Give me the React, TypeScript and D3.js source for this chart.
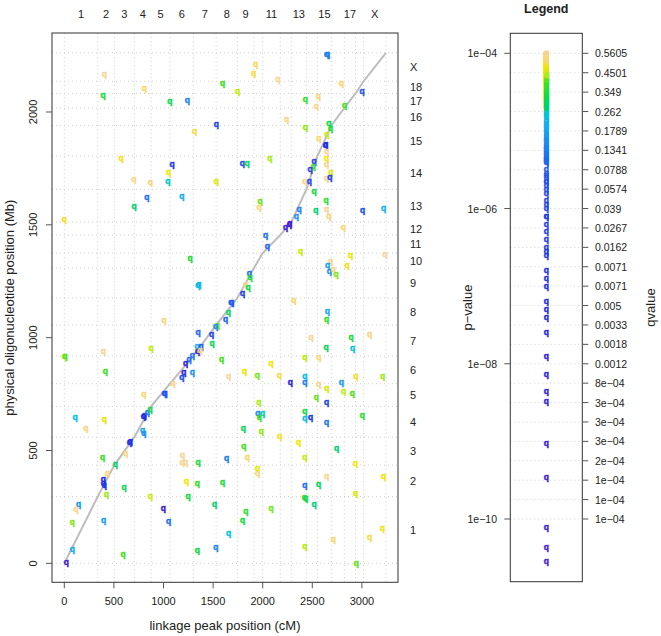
import * as d3 from 'd3';

const chroms = ['1', '2', '3', '4', '5', '6', '7', '8', '9', '10', '11', '12', '13', '14', '15', '16', '17', '18', 'X'];
const topShown = ['1', '2', '3', '4', '5', '6', '7', '8', '9', '11', '13', '15', '17', 'X'];
// cumulative chromosome boundaries
const cmBounds = [0, 337, 505, 706, 875, 1066, 1301, 1530, 1745, 1912, 2000, 2177, 2288, 2440, 2553, 2692, 2823, 2936, 3017, 3243];
const mbBounds = [0, 295.5, 435.5, 559.1, 695.4, 795.9, 919.2, 1055.6, 1175.6, 1308.1, 1374.8, 1454.6, 1512.0, 1657.2, 1805.7, 1940.2, 2017.6, 2082.0, 2136.3, 2262.2];

const markerCM = [
  403, 806, 1597, 1746, 390, 1065, 1240, 1532, 1314, 572, 1086, 1052, 700, 867, 1045, 1532, 831, 1186, 703, 0,
  2645, 2655, 1929, 1909, 2154, 2792, 3001, 2560, 2429, 2540, 2826, 2242, 2668, 2685, 2429, 2648, 2567, 2631, 2636,
  2645, 2645, 2073, 2517, 1794, 1842, 2645, 2510, 2477, 2688, 2426, 2470, 2645, 2678, 2517, 1973, 1963, 2638, 2366,
  2537, 2645, 2668, 3008, 3220, 2339, 2268, 2275, 2232, 2812,
  2030, 2046, 2383, 2887, 3233, 2685, 2655, 2850, 2671, 2712, 2739, 1865, 1872, 1824, 1852, 1798, 1680, 1690, 2315,
  2651, 2645, 1655, 1627, 2487, 2890, 3078, 2638, 2907, 1587, 2426, 2567, 2084, 1657, 1818, 1945, 2167, 2426, 2940,
  3209, 2278, 2426, 2567, 2792, 2648, 2540, 2816, 2903, 1960, 2645, 1950, 2000, 1966, 2426, 2484, 2426, 2645, 3004,
  1804, 1986, 2174, 2363, 1811, 2746, 1637, 1845, 2426, 1949, 1949, 2937, 2645, 3220, 1597, 2426, 2564, 2937, 2420,
  2432, 2517, 2084, 1829, 1798, 3205, 1657, 3078, 2712, 2426, 2943,
  108, 403, 216, 798, 808, 837, 864, 790, 803, 657, 667, 1193, 619, 387, 514, 1189, 1224, 1348, 433, 393, 393, 403,
  602, 1234, 1341, 423, 867, 1247, 1516, 998, 145, 118, 81, 397, 1052, 81, 592, 1341, 1529, 20,
  1267, 1346, 1356, 1005, 1542, 1524, 1348, 1484, 1489, 1338, 1378, 1345, 1368, 874, 393, 0, 8, 1292, 1257, 1224,
  1204, 1186, 1290, 413, 1096, 803, 1005, 1015,
];
const markerMB = [
  2167, 2104, 2127, 2089, 2073, 2047, 2052, 1945, 1913, 1796, 1769, 1732, 1700, 1689, 1692, 1694, 1620, 1624, 1583, 1522,
  2256, 2256, 2209, 2170, 2145, 2126, 2091, 2068, 2055, 2024, 2027, 1968, 1951, 1929, 1933, 1900, 1883, 1852, 1855,
  1824, 1794, 1796, 1782, 1771, 1771, 1767, 1760, 1744, 1734, 1694, 1691, 1706, 1710, 1647, 1602, 1576, 1607, 1567,
  1564, 1567, 1537, 1565, 1571, 1537, 1502, 1505, 1487, 1487,
  1453, 1403, 1383, 1364, 1367, 1336, 1321, 1321, 1294, 1300, 1278, 1283, 1265, 1235, 1221, 1195, 1154, 1156, 1166,
  1114, 1080, 1112, 1080, 999, 1001, 1013, 956, 950, 905, 914, 914, 885, 826, 851, 834, 834, 827, 827,
  830, 802, 800, 793, 802, 775, 735, 762, 751, 711, 711, 663, 664, 648, 673, 648, 643, 626, 654,
  599, 584, 562, 537, 518, 507, 466, 467, 467, 422, 396, 442, 387, 383, 360, 343, 348, 309, 291,
  287, 262, 244, 228, 191, 154, 133, 114, 107, 74, 1,
  648, 638, 599, 651, 653, 669, 680, 589, 574, 537, 539, 476, 485, 469, 436, 448, 447, 447, 399, 373, 352, 343,
  337, 362, 352, 304, 296, 296, 262, 245, 260, 237, 183, 192, 185, 62, 41, 56, 72, 4,
  1349, 1232, 1234, 1077, 1053, 1048, 1021, 1016, 973, 961, 961, 939, 942, 950, 937, 916, 918, 920, 905, 884,
  845, 822, 846, 848, 798, 747, 751, 753,
];
// log10 p-value of each marker
const markerLogP = [
  -4.0, -4.08, -4.4, -4.27, -4.52, -4.61, -5.2, -6.1, -4.1, -4.15, -6.3, -4.19, -4.03, -4.05, -4.76, -4.22, -5.33, -4.93, -4.68, -4.14,
  -5.17, -5.26, -4.09, -4.12, -4.01, -4.07, -5.6, -4.06, -4.45, -4.02, -4.38, -4.04, -4.57, -4.49, -4.31, -4.26, -4.07, -6.8, -7.2,
  -4.0, -4.17, -4.29, -6.0, -5.7, -4.64, -4.03, -4.42, -5.9, -4.23, -4.05, -5.8, -4.02, -6.2, -4.55, -4.34, -4.06, -4.47, -5.22,
  -4.7, -4.01, -4.04, -5.65, -4.9, -5.12, -10.55, -10.37, -9.47, -4.06,
  -5.29, -5.38, -4.25, -4.2, -4.0, -4.03, -5.0, -4.16, -5.08, -4.05, -4.32, -5.35, -4.53, -4.02, -4.59, -6.5, -5.4, -5.55, -4.07,
  -4.96, -4.44, -4.66, -5.41, -4.01, -4.5, -4.04, -4.62, -4.8, -4.37, -4.28, -4.06, -4.18, -4.0, -4.21, -4.33, -4.11, -4.83, -4.13,
  -4.3, -8.14, -5.24, -4.03, -5.04, -4.24, -4.35, -4.27, -4.36, -4.29, -6.1, -5.18, -4.74, -4.41, -4.56, -6.6, -4.86, -5.31, -4.48,
  -4.63, -4.31, -4.15, -4.19, -4.39, -4.69, -5.27, -4.08, -4.26, -4.22, -4.05, -4.17, -4.02, -4.2, -4.51, -5.36, -4.65, -4.23, -4.43,
  -4.58, -4.71, -4.33, -4.46, -4.54, -4.16, -4.78, -4.1, -4.07, -4.28, -4.35,
  -4.81, -4.21, -4.04, -7.0, -7.4, -5.23, -4.6, -4.98, -5.1, -6.4, -7.3, -4.01, -4.06, -4.4, -4.67, -4.03, -4.0, -4.52, -4.05, -7.6, -6.9, -6.55,
  -4.61, -4.18, -4.45, -4.3, -4.24, -4.55, -4.68, -8.36, -5.06, -4.02, -4.32, -5.02, -5.34, -4.94, -4.38, -4.57, -5.21, -10.11,
  -4.5, -4.79, -4.88, -4.04, -4.34, -5.14, -5.39, -5.95, -4.64, -4.92, -5.5, -9.03, -4.06, -4.27, -4.01, -4.29, -4.36, -5.3, -5.37, -8.49,
  -7.91, -5.75, -5.11, -4.42, -4.03, -4.07, -5.58, -5.65,
];

const pTicks = [-4, -6, -8, -10];
const pTickLabels = ['1e\u221204', '1e\u221206', '1e\u221208', '1e\u221210'];
const qTickLabels = [
  '0.5605', '0.4501', '0.349', '0.262', '0.1789', '0.1341', '0.0788', '0.0574', '0.039', '0.0267', '0.0162', '0.0071', '0.0071',
  '0.005', '0.0033', '0.0018', '0.0012', '8e\u221204', '3e\u221204', '3e\u221204', '3e\u221204', '2e\u221204', '1e\u221204', '1e\u221204', '1e\u221204',
];
const xTicks = [0, 500, 1000, 1500, 2000, 2500, 3000];
const yTicks = [0, 500, 1000, 1500, 2000];

const colorStops = [-4.0, -4.06, -4.12, -4.19, -4.28, -4.37, -4.55, -4.7, -4.78, -4.92, -5.12, -5.42, -5.7, -7.0, -7.9, -10.6];
const colorRange = ['#f8d49c', '#f8d67a', '#f8dc40', '#f2e800', '#b8ec10', '#48e020', '#10dc40', '#00d078', '#00c8d8', '#10b0f0', '#1a90f0', '#1e64f0', '#1e4cec', '#1a2ee6', '#2a22e0', '#4a1ed4'];

const FONT = '"Liberation Sans", Arial, sans-serif';

export default function App() {
  const W = 661;
  const H = 636;
  const panel = { left: 52, right: 398, top: 33, bottom: 582.3 };
  const leg = { left: 510.3, right: 582.3, top: 33.3, bottom: 581.7 };

  const x = d3.scaleLinear().domain([-124, 3364]).range([panel.left, panel.right]);
  const y = d3.scaleLinear().domain([-84, 2350]).range([panel.bottom, panel.top]);
  const ly = d3.scaleLinear().domain([-10.808, -3.742]).range([leg.bottom, leg.top]);
  const color = d3.scaleLinear<string>().domain(colorStops).range(colorRange).interpolate(d3.interpolateRgb).clamp(true);

  const qTicks = qTickLabels.map((_, i) => -4 - i * 0.25);
  const markers = markerCM.map((c, i) => ({ c, m: markerMB[i], p: markerLogP[i] }));
  const legX = (leg.left + leg.right) / 2;

  const line = d3.line<number>().x((d) => x(d)).y((_, i) => y(mbBounds[i]));
  const grid = '#cfcfcf';

  return (
    <svg width={W} height={H} style={{ position: 'absolute', left: 0, top: 0, background: '#fff' }} fontFamily={FONT}>
      {/* main panel grid */}
      <g stroke={grid} strokeWidth={1} strokeDasharray="1,3">
        {cmBounds.map((c, i) => (
          <line key={`v${i}`} x1={x(c)} x2={x(c)} y1={panel.top} y2={panel.bottom} />
        ))}
        {mbBounds.map((m, i) => (
          <line key={`h${i}`} x1={panel.left} x2={panel.right} y1={y(m)} y2={y(m)} />
        ))}
      </g>
      <path d={line(cmBounds) || ''} fill="none" stroke="#bdbdbd" strokeWidth={2} />
      <g fontWeight="bold" fontSize={8.5} textAnchor="middle" strokeWidth={0.45}>
        {markers.map((d, i) => (
          <text key={i} x={x(d.c)} y={y(d.m) + 2.5} fill={color(d.p)} stroke={color(d.p)}>q</text>
        ))}
      </g>
      <rect x={panel.left} y={panel.top} width={panel.right - panel.left} height={panel.bottom - panel.top} fill="none" stroke="#333" strokeWidth={1} />
      {/* bottom axis */}
      <g fontSize={11} textAnchor="middle" fill="#222">
        {xTicks.map((t) => (
          <g key={t}>
            <line x1={x(t)} x2={x(t)} y1={panel.bottom} y2={panel.bottom + 6} stroke="#555" />
            <text x={x(t)} y={605}>{t}</text>
          </g>
        ))}
        <text x={(panel.left + panel.right) / 2} y={630} fontSize={13}>linkage peak position (cM)</text>
      </g>
      {/* left axis */}
      <g fontSize={11} textAnchor="middle" fill="#222">
        {yTicks.map((t) => (
          <g key={t}>
            <line x1={panel.left - 6} x2={panel.left} y1={y(t)} y2={y(t)} stroke="#555" />
            <text transform={`translate(37,${y(t)}) rotate(-90)`}>{t}</text>
          </g>
        ))}
        <text transform={`translate(14,${(panel.top + panel.bottom) / 2}) rotate(-90)`} fontSize={13}>physical oligonucleotide position (Mb)</text>
      </g>
      {/* top chromosome labels */}
      <g fontSize={11} textAnchor="middle" fill="#222">
        {chroms.map((ch, i) => (topShown.includes(ch) ? (
          <text key={ch} x={x((cmBounds[i] + cmBounds[i + 1]) / 2)} y={18.3}>{ch}</text>
        ) : null))}
      </g>
      {/* right chromosome labels */}
      <g fontSize={11} fill="#222">
        {chroms.map((ch, i) => (
          <text key={ch} x={410} y={y((mbBounds[i] + mbBounds[i + 1]) / 2) + 4}>{ch}</text>
        ))}
      </g>

      {/* legend */}
      <text x={legX} y={12.8} textAnchor="middle" fontWeight="bold" fontSize={12.5} fill="#222">Legend</text>
      <g stroke={grid} strokeWidth={1} strokeDasharray="1,3">
        {qTicks.map((t, i) => (
          <line key={i} x1={leg.left} x2={leg.right} y1={ly(t)} y2={ly(t)} />
        ))}
      </g>
      <g fontWeight="bold" fontSize={8.5} textAnchor="middle" strokeWidth={0.45}>
        {markers.map((d, i) => (
          <text key={i} x={legX} y={ly(d.p) + 2.5} fill={color(d.p)} stroke={color(d.p)}>q</text>
        ))}
      </g>
      <rect x={leg.left} y={leg.top} width={leg.right - leg.left} height={leg.bottom - leg.top} fill="none" stroke="#333" strokeWidth={1} />
      <g fontSize={10.5} fill="#222">
        {pTicks.map((t, i) => (
          <g key={t}>
            <line x1={leg.left - 6} x2={leg.left} y1={ly(t)} y2={ly(t)} stroke="#555" />
            <text x={497} y={ly(t) + 4} textAnchor="end">{pTickLabels[i]}</text>
          </g>
        ))}
        {qTicks.map((t, i) => (
          <g key={i}>
            <line x1={leg.right} x2={leg.right + 6} y1={ly(t)} y2={ly(t)} stroke="#555" />
            <text x={595} y={ly(t) + 4}>{qTickLabels[i]}</text>
          </g>
        ))}
      </g>
      <text transform={`translate(472,${(leg.top + leg.bottom) / 2}) rotate(-90)`} textAnchor="middle" fontSize={13} fill="#222">p{'\u2212'}value</text>
      <text transform={`translate(655,${(leg.top + leg.bottom) / 2}) rotate(-90)`} textAnchor="middle" fontSize={13} fill="#222">qvalue</text>
    </svg>
  );
}
